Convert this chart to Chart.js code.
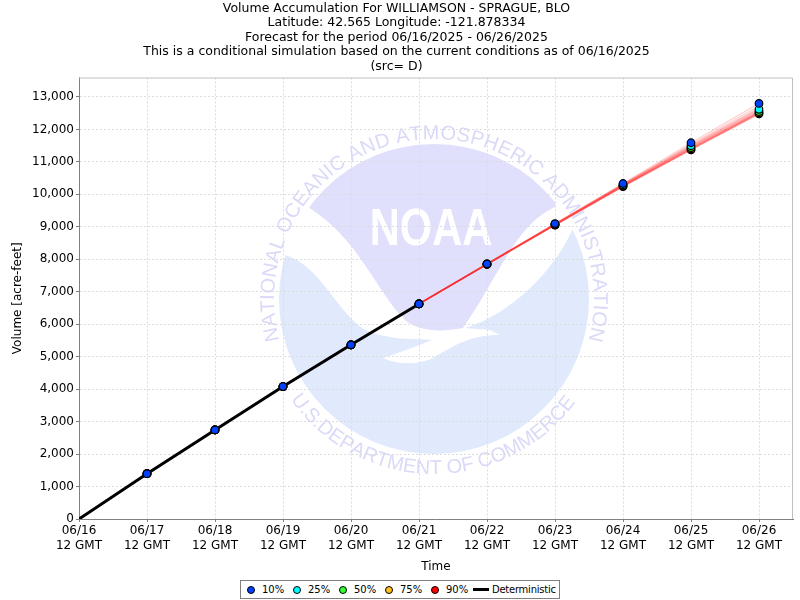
<!DOCTYPE html>
<html>
<head>
<meta charset="utf-8">
<title>Volume Accumulation</title>
<script src="https://cdn.jsdelivr.net/npm/chart.js@4"></script>
<style>
  body { margin: 0; background: #fff; }
  #wrap { position: relative; width: 800px; height: 600px; overflow: hidden; }
  #legend {
    position: absolute; left: 240px; top: 580px; width: 320px; height: 19px;
    border: 1px solid #808080; background: #fff; display: flex; align-items: center;
    font: 10px "DejaVu Sans", sans-serif; color: #000;
    padding-left: 6px; box-sizing: border-box;
  }
  #legend .item { display: flex; align-items: center; width: 46px; flex: none; }
  #legend .det { width: auto; letter-spacing: -0.25px; }
  #legend .dot { width: 6px; height: 6px; border: 1px solid #000; border-radius: 50%; margin-right: 7px; }
  #legend .bar { width: 16px; height: 3px; background: #000; margin-right: 3px; margin-left: -4px; }
</style>
</head>
<body>
<div id="wrap">
  <canvas id="chart" width="800" height="600"></canvas>
  <div id="legend"></div>
</div>
<script>
const TITLE_LINES = [
  'Volume Accumulation For WILLIAMSON - SPRAGUE, BLO',
  'Latitude: 42.565 Longitude: -121.878334',
  'Forecast for the period 06/16/2025 - 06/26/2025',
  'This is a conditional simulation based on the current conditions as of 06/16/2025',
  '(src= D)',
];

const DAY_LABELS = ['06/16', '06/17', '06/18', '06/19', '06/20', '06/21', '06/22', '06/23', '06/24', '06/25', '06/26'];
const Y_TICKS = [0, 1000, 2000, 3000, 4000, 5000, 6000, 7000, 8000, 9000, 10000, 11000, 12000, 13000];

// dias 1..10 (06/17 a 06/26)
const P10 = [1395, 2745, 4080, 5365, 6625, 7860, 9100, 10335, 11590, 12800];
const P25 = [1395, 2745, 4080, 5365, 6625, 7855, 9085, 10300, 11500, 12620];
const P50 = [1395, 2745, 4080, 5365, 6625, 7850, 9070, 10275, 11440, 12550];
const P75 = [1395, 2745, 4080, 5365, 6625, 7850, 9060, 10260, 11400, 12510];
const P90 = [1395, 2745, 4080, 5365, 6625, 7845, 9050, 10240, 11370, 12480];

// deterministico: 06/16 a 06/21
const DETERMINISTIC = [0, 1395, 2745, 4080, 5365, 6625];

// membros do ensemble: 06/21 a 06/26
const ENSEMBLE = [
  [6625, 7860, 9100, 10335, 11590, 12800],
  [6625, 7860, 9095, 10320, 11540, 12720],
  [6625, 7858, 9090, 10310, 11510, 12660],
  [6625, 7856, 9085, 10300, 11490, 12630],
  [6625, 7855, 9080, 10290, 11470, 12600],
  [6625, 7853, 9075, 10285, 11455, 12575],
  [6625, 7852, 9072, 10278, 11440, 12555],
  [6625, 7850, 9068, 10270, 11425, 12540],
  [6625, 7850, 9065, 10265, 11415, 12525],
  [6625, 7848, 9060, 10260, 11405, 12515],
  [6625, 7847, 9057, 10252, 11395, 12505],
  [6625, 7846, 9054, 10245, 11385, 12495],
  [6625, 7845, 9050, 10240, 11375, 12485],
  [6625, 7845, 9050, 10240, 11370, 12480],
];

const PERCENTILES = [
  { label: '10%', values: P10, color: '#0040ff' },
  { label: '25%', values: P25, color: '#00ffff' },
  { label: '50%', values: P50, color: '#33ff33' },
  { label: '75%', values: P75, color: '#ffc020' },
  { label: '90%', values: P90, color: '#ff0000' },
];

const FONT = '"DejaVu Sans", sans-serif';

function toPoints(values, firstDay) {
  return values.map((y, i) => ({ x: firstDay + i, y }));
}

// ── Marca d'água NOAA ───────────────────────────────────────────────────────

function arcText(ctx, text, cx, cy, radius, startDeg, endDeg, bottom) {
  const widths = [...text].map(ch => ctx.measureText(ch).width);
  const total = widths.reduce((a, b) => a + b, 0);
  const span = (endDeg - startDeg) * Math.PI / 180;
  const scale = span / total;
  let pos = startDeg * Math.PI / 180;
  [...text].forEach((ch, i) => {
    const a = pos + widths[i] * scale / 2;
    ctx.save();
    if (bottom) {
      ctx.translate(cx + radius * Math.sin(a), cy + radius * Math.cos(a));
      ctx.rotate(-a);
    } else {
      ctx.translate(cx + radius * Math.sin(a), cy - radius * Math.cos(a));
      ctx.rotate(a);
    }
    ctx.fillText(ch, 0, 0);
    ctx.restore();
    pos += widths[i] * scale;
  });
}

const watermark = {
  id: 'watermark',
  beforeDraw(chart) {
    const { ctx } = chart;
    const cx = 434, cy = 299, r = 155;
    ctx.save();
    ctx.beginPath();
    ctx.arc(cx, cy, r, 0, Math.PI * 2);
    ctx.clip();

    // metade de cima
    ctx.fillStyle = '#e0e0fc';
    ctx.beginPath();
    ctx.moveTo(308, 207);
    ctx.lineTo(350, 100);
    ctx.lineTo(560, 100);
    ctx.lineTo(555, 207);
    ctx.bezierCurveTo(515, 225, 500, 275, 463, 328);
    ctx.bezierCurveTo(440, 332, 420, 332, 405, 320);
    ctx.bezierCurveTo(375, 290, 360, 240, 308, 207);
    ctx.fill();

    // metade de baixo
    ctx.fillStyle = '#e0eafc';
    ctx.beginPath();
    ctx.moveTo(270, 250);
    ctx.lineTo(285, 255);
    ctx.bezierCurveTo(320, 265, 335, 310, 365, 330);
    ctx.bezierCurveTo(395, 342, 420, 338, 432, 340);
    ctx.bezierCurveTo(415, 347, 400, 352, 383, 358);
    ctx.bezierCurveTo(400, 366, 420, 364, 433, 358);
    ctx.bezierCurveTo(455, 345, 470, 335, 500, 335);
    ctx.lineTo(490, 330);
    ctx.lineTo(465, 328);
    ctx.bezierCurveTo(510, 315, 555, 270, 572, 230);
    ctx.lineTo(600, 230);
    ctx.lineTo(600, 470);
    ctx.lineTo(270, 470);
    ctx.closePath();
    ctx.fill();
    ctx.restore();

    ctx.save();
    ctx.fillStyle = '#dadaf8';
    ctx.font = '20px "Liberation Sans", sans-serif';
    ctx.textAlign = 'center';
    ctx.textBaseline = 'alphabetic';
    arcText(ctx, 'NATIONAL OCEANIC AND ATMOSPHERIC ADMINISTRATION', cx, cy, 160, -105, 105, false);
    arcText(ctx, 'U.S.DEPARTMENT OF COMMERCE', cx, cy, 175, -55, 54, true);

    ctx.fillStyle = '#fff';
    ctx.font = 'bold 52px "Liberation Sans", sans-serif';
    ctx.translate(431, 245);
    ctx.scale(0.8, 1);
    ctx.fillText('NOAA', 0, 0);
    ctx.restore();
  },
  // moldura clara em cima e à direita
  beforeDatasetsDraw(chart) {
    const { ctx, chartArea: a } = chart;
    ctx.save();
    ctx.strokeStyle = '#c0c0c0';
    ctx.lineWidth = 1;
    ctx.beginPath();
    ctx.moveTo(a.left, a.top + 0.5);
    ctx.lineTo(a.right - 0.5, a.top + 0.5);
    ctx.lineTo(a.right - 0.5, a.bottom);
    ctx.stroke();
    ctx.restore();
  },
};

// ── Gráfico ─────────────────────────────────────────────────────────────────

const datasets = [
  ...PERCENTILES.map(p => ({
    label: p.label,
    data: toPoints(p.values, 1),
    showLine: false,
    pointRadius: 3.8,
    pointBorderWidth: 1.2,
    pointBorderColor: '#000',
    pointBackgroundColor: p.color,
  })),
  {
    label: 'Deterministic',
    data: toPoints(DETERMINISTIC, 0),
    showLine: true,
    borderColor: '#000',
    borderWidth: 3,
    pointRadius: 0,
  },
  ...ENSEMBLE.map((values, i) => ({
    label: `trace ${i + 1}`,
    data: toPoints(values, 5),
    showLine: true,
    borderColor: 'rgba(255,40,40,0.2)',
    borderWidth: 1.4,
    pointRadius: 0,
  })),
];

new Chart(document.getElementById('chart'), {
  type: 'scatter',
  data: { datasets },
  options: {
    responsive: false,
    animation: false,
    devicePixelRatio: 1,
    layout: { padding: { top: 0, right: 7, bottom: 0, left: 0 } },
    plugins: {
      legend: { display: false },
      tooltip: { enabled: false },
      title: {
        display: true,
        text: TITLE_LINES,
        color: '#000',
        font: { family: FONT, size: 12.5, weight: 'normal', lineHeight: 1.16 },
        padding: { top: 1, bottom: 4 },
      },
    },
    scales: {
      x: {
        type: 'linear',
        min: 0,
        max: 10.5,
        afterFit: s => { s.height = 81; },
        title: { display: true, text: 'Time', color: '#000', font: { family: FONT, size: 12 }, padding: { top: 4, bottom: 26 } },
        border: { color: '#808080', dash: [2, 2] },
        grid: { color: '#dcdcdc', tickColor: '#808080', tickLength: 3 },
        ticks: {
          stepSize: 1,
          maxTicksLimit: 20,
          includeBounds: false,
          autoSkip: false,
          maxRotation: 0,
          color: '#000',
          padding: 2,
          font: { family: FONT, size: 12 },
          callback: v => [DAY_LABELS[v], '12 GMT'],
        },
      },
      y: {
        type: 'linear',
        min: 0,
        max: 13600,
        afterFit: s => { s.width = 79; },
        afterBuildTicks: s => { s.ticks = Y_TICKS.map(value => ({ value })); },
        title: { display: true, text: 'Volume [acre-feet]', color: '#000', font: { family: FONT, size: 12 }, padding: { top: 11, bottom: 0 } },
        border: { color: '#808080', dash: [2, 2] },
        grid: { color: '#dcdcdc', tickColor: '#808080', tickLength: 3 },
        ticks: {
          autoSkip: false,
          color: '#000',
          padding: 2,
          font: { family: FONT, size: 12 },
          callback: v => v.toLocaleString('en-US'),
        },
      },
    },
  },
  plugins: [watermark],
});

// ── Legenda ─────────────────────────────────────────────────────────────────

const legendEl = document.getElementById('legend');
PERCENTILES.forEach(p => {
  const item = document.createElement('span');
  item.className = 'item';
  item.innerHTML = `<span class="dot" style="background:${p.color}"></span>${p.label}`;
  legendEl.appendChild(item);
});
const det = document.createElement('span');
det.className = 'item det';
det.innerHTML = '<span class="bar"></span>Deterministic';
legendEl.appendChild(det);
</script>
</body>
</html>
